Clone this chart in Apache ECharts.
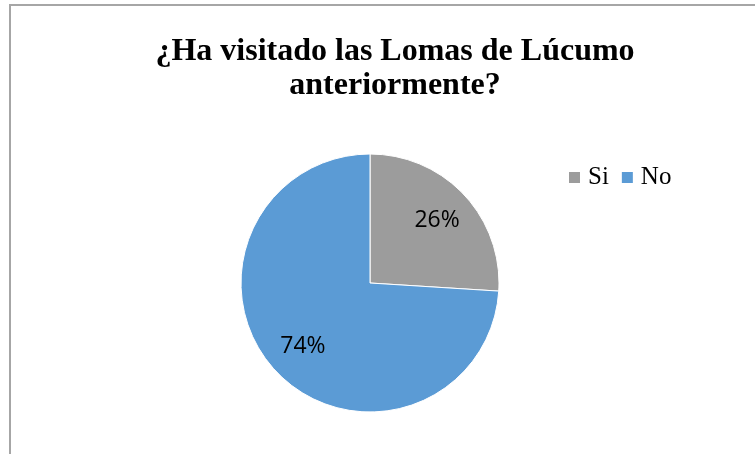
<!DOCTYPE html>
<html>
<head>
<meta charset="utf-8">
<script src="https://cdn.jsdelivr.net/npm/echarts@6/dist/echarts.min.js"></script>
<style>
  html, body { margin: 0; padding: 0; background: #fff; }
  #frame { position: absolute; left: 9px; top: 4px; width: 800px; height: 500px; border: 2px solid #a6a6a6; box-sizing: border-box; }
  #chart { position: absolute; left: 0; top: 0; width: 755px; height: 454px; }
</style>
</head>
<body>
<div id="frame"></div>
<div id="chart"></div>
<script>
const titleText = '¿Ha visitado las Lomas de Lúcumo\nanteriormente?'
const categories = ['Si', 'No']
const percents = [26, 74]
const colors = ['#9c9c9c', '#5B9BD5']

const pieData = categories.map((name, i) => ({ name: name, value: percents[i] }))

const chart = echarts.init(document.getElementById('chart'))

const option = {
  animation: false,
  color: colors,
  title: {
    text: titleText,
    left: 390,
    textAlign: 'center',
    top: 30,
    textStyle: {
      fontFamily: 'Liberation Serif',
      fontWeight: 'bold',
      fontSize: 32,
      lineHeight: 34,
      color: '#000'
    }
  },
  legend: {
    data: categories,
    left: 562,
    top: 160,
    itemWidth: 13,
    itemHeight: 13,
    itemGap: 11,
    icon: 'rect',
    textStyle: {
      fontFamily: 'Liberation Serif',
      fontSize: 25,
      color: '#000',
      padding: [0, 0, 0, 2]
    }
  },
  series: [
    {
      // visible pie
      type: 'pie',
      center: [370, 283],
      radius: [0, 129],
      startAngle: 90,
      clockwise: true,
      silent: true,
      data: pieData,
      itemStyle: { borderColor: '#fff', borderWidth: 1 },
      label: { show: false },
      labelLine: { show: false }
    },
    {
      // transparent copy, only to place the percent labels further out
      type: 'pie',
      center: [370, 283],
      radius: [0, 178],
      startAngle: 90,
      clockwise: true,
      silent: true,
      data: pieData,
      itemStyle: { color: 'rgba(0,0,0,0)' },
      label: {
        show: true,
        position: 'inside',
        formatter: '{c}%',
        fontFamily: 'Open Sans',
        fontSize: 23,
        color: '#000'
      },
      labelLine: { show: false }
    }
  ]
}

chart.setOption(option)
</script>
</body>
</html>
